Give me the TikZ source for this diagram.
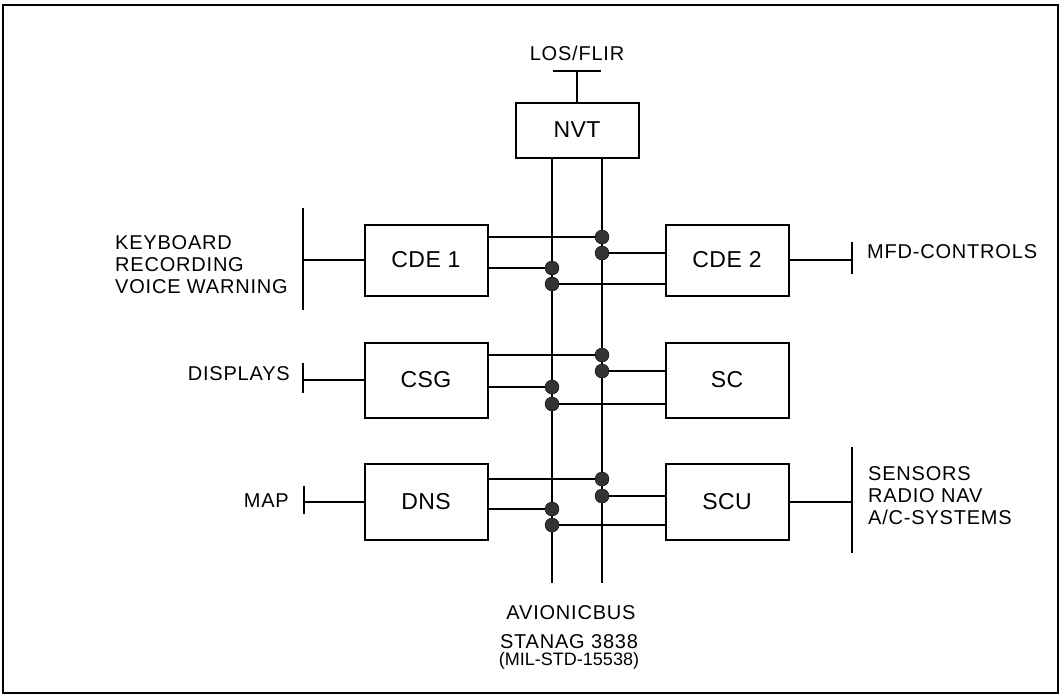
\documentclass[tikz,border=0pt]{standalone}
\usepackage{fontspec}
\setmainfont{Liberation Sans}
\newfontfamily\lblfont[LetterSpace=4]{Liberation Sans}
\newfontfamily\unitfont[LetterSpace=2]{Liberation Sans}
\usetikzlibrary{positioning, calc}
\tikzstyle{unit} = [rectangle, draw=black, line width=2pt, minimum width=123pt, minimum height=75pt, font=\unitfont\fontsize{23}{26}\selectfont]
\tikzstyle{tap} = [circle, fill=black!80, draw=black, minimum size=14pt, inner sep=0pt]
\tikzstyle{wire} = [line width=1.5pt]
\tikzstyle{bar} = [line width=2pt]
\tikzstyle{ext} = [inner sep=0pt, align=left, font=\lblfont\fontsize{20}{22}\selectfont]

\begin{document}
\begin{tikzpicture}[x=1pt, y=-1pt]
  \useasboundingbox (0,0) rectangle (1062,699);
  \draw[line width=2pt] (3,5) rectangle (1058,693);

  % units on the bus
  \node[unit, minimum height=55pt] (nvt) at (577,130) {NVT};
  \node[unit, minimum height=71pt] (cde1) at (426,260) {CDE 1};
  \node[unit, minimum height=71pt] (cde2) at (727,260) {CDE 2};
  \node[unit] (csg) at (426,380) {CSG};
  \node[unit] (sc) at (727,380) {SC};
  \node[unit, minimum height=76pt] (dns) at (426,502) {DNS};
  \node[unit, minimum height=76pt] (scu) at (727,502) {SCU};

  % the two bus lines
  \coordinate (busl) at (552,583);
  \coordinate (busr) at (602,583);
  \draw[wire] (nvt.south -| busl) -- (busl);
  \draw[wire] (nvt.south -| busr) -- (busr);

  % bus couplers
  \node[tap] (c1) at (602,237) {};
  \node[tap] (c2) at (602,253) {};
  \node[tap] (c3) at (552,268) {};
  \node[tap] (c4) at (552,284) {};
  \node[tap] (s1) at (602,355) {};
  \node[tap] (s2) at (602,371) {};
  \node[tap] (s3) at (552,387) {};
  \node[tap] (s4) at (552,404) {};
  \node[tap] (d1) at (602,479) {};
  \node[tap] (d2) at (602,496) {};
  \node[tap] (d3) at (552,509) {};
  \node[tap] (d4) at (552,525) {};

  \draw[wire] (cde1.east |- c1) -- (c1);
  \draw[wire] (c2) -- (cde2.west |- c2);
  \draw[wire] (cde1.east |- c3) -- (c3);
  \draw[wire] (c4) -- (cde2.west |- c4);
  \draw[wire] (csg.east |- s1) -- (s1);
  \draw[wire] (s2) -- (sc.west |- s2);
  \draw[wire] (csg.east |- s3) -- (s3);
  \draw[wire] (s4) -- (sc.west |- s4);
  \draw[wire] (dns.east |- d1) -- (d1);
  \draw[wire] (d2) -- (scu.west |- d2);
  \draw[wire] (dns.east |- d3) -- (d3);
  \draw[wire] (d4) -- (scu.west |- d4);

  % outside connections
  \coordinate (losl) at (553,71);
  \coordinate (losr) at (601,71);
  \draw[bar] (losl) -- (losr);
  \draw[wire] (nvt.north) -- (nvt.north |- losl);
  \node[ext] (los) at (577,53) {LOS/FLIR};

  \coordinate (kbdtop) at (303,208);
  \coordinate (kbdbot) at (303,310);
  \draw[bar] (kbdtop) -- (kbdbot);
  \draw[wire] (cde1.west) -- (cde1.west -| kbdtop);
  \node[ext, anchor=west] (kbd) at (115,265) {KEYBOARD\\RECORDING\\VOICE WARNING};

  \coordinate (distop) at (303,363);
  \coordinate (disbot) at (303,393);
  \draw[bar] (distop) -- (disbot);
  \draw[wire] (csg.west) -- (csg.west -| distop);
  \node[ext, anchor=east] (disp) at (290,374) {DISPLAYS};

  \coordinate (maptop) at (304,486);
  \coordinate (mapbot) at (304,514);
  \draw[bar] (maptop) -- (mapbot);
  \draw[wire] (dns.west) -- (dns.west -| maptop);
  \node[ext, anchor=east] (map) at (289,501) {MAP};

  \coordinate (mfdtop) at (852,242);
  \coordinate (mfdbot) at (852,274);
  \draw[bar] (mfdtop) -- (mfdbot);
  \draw[wire] (cde2.east) -- (cde2.east -| mfdtop);
  \node[ext, anchor=west] (mfd) at (867,252) {MFD-CONTROLS};

  \coordinate (sentop) at (852,447);
  \coordinate (senbot) at (852,553);
  \draw[bar] (sentop) -- (senbot);
  \draw[wire] (scu.east) -- (scu.east -| sentop);
  \node[ext, anchor=west] (sens) at (868,496) {SENSORS\\RADIO NAV\\A/C-SYSTEMS};

  % bus name
  \node[ext] (avb) at (571,613) {AVIONICBUS};
  \node[ext] (stanag) at (569,642) {STANAG 3838};
  \node[ext, font=\fontsize{18}{20}\selectfont, below=3pt of stanag] (milstd) {(MIL-STD-15538)};
\end{tikzpicture}
\end{document}
